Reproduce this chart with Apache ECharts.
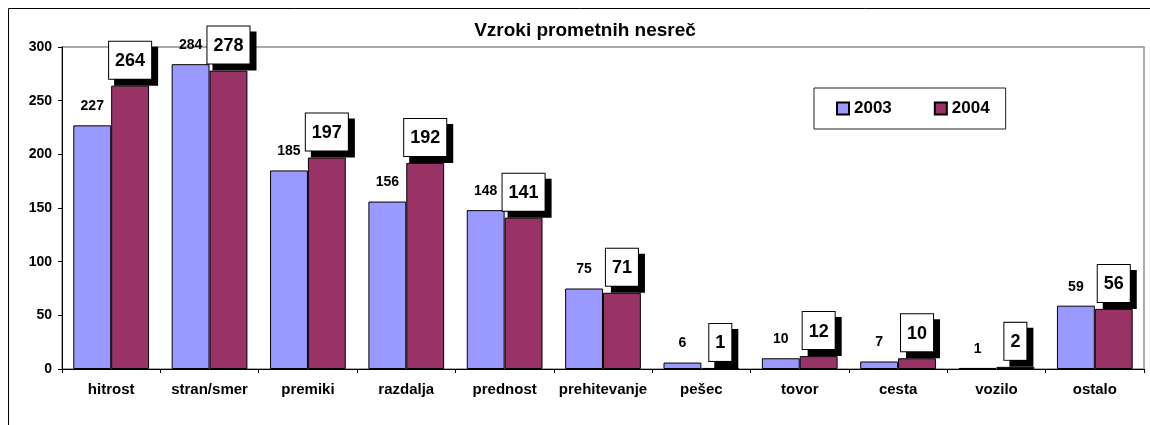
<!DOCTYPE html>
<html>
<head>
<meta charset="utf-8">
<script src="https://cdn.jsdelivr.net/npm/echarts@6/dist/echarts.min.js"></script>
<style>html,body{margin:0;padding:0;background:#fff}#c{width:1150px;height:425px}</style>
</head>
<body>
<div id="c"></div>
<script>
var categories = ['hitrost','stran/smer','premiki','razdalja','prednost','prehitevanje','pešec','tovor','cesta','vozilo','ostalo'];
var values2003 = [227, 284, 185, 156, 148, 75, 6, 10, 7, 1, 59];
var values2004 = [264, 278, 197, 192, 141, 71, 1, 12, 10, 2, 56];
var seriesNames = ['2003', '2004'];
var yTicks = [0, 50, 100, 150, 200, 250, 300];
var titleText = 'Vzroki prometnih nesreč';

var FONT = '"Liberation Sans", Arial, sans-serif';
var chart = echarts.init(document.getElementById('c'), null, {renderer: 'canvas'});
chart.setOption({
  animation: false,
  backgroundColor: '#fff',
  graphic: [{
    type: 'rect', z: -10, silent: true,
    shape: {x: 8.5, y: 8.5, width: 1300, height: 600},
    style: {fill: 'none', stroke: '#000', lineWidth: 1}
  }],
  title: {
    text: titleText, left: 585, top: 21, textAlign: 'center', padding: 0,
    textStyle: {fontFamily: FONT, fontSize: 19, fontWeight: 'bold', color: '#000'}
  },
  legend: {
    data: seriesNames, left: 814, top: 88, orient: 'horizontal',
    padding: [12, 16, 12, 22], itemGap: 42, itemWidth: 12, itemHeight: 12,
    icon: 'rect', backgroundColor: '#fff', borderColor: '#222', borderWidth: 1,
    textStyle: {fontFamily: FONT, fontSize: 17, fontWeight: 'bold', color: '#000'}
  },
  grid: {left: 62, top: 47, right: 6, bottom: 56, show: true, borderColor: '#909090', borderWidth: 1.5, backgroundColor: 'transparent'},
  xAxis: {
    type: 'category', data: categories, boundaryGap: true,
    axisLine: {lineStyle: {color: '#000', width: 1}},
    axisTick: {show: true, length: 4, inside: false, lineStyle: {color: '#000'}},
    axisLabel: {interval: 0, margin: 13, fontFamily: FONT, fontSize: 15, fontWeight: 'bold', color: '#000'},
    splitLine: {show: false}
  },
  yAxis: {
    type: 'value', min: yTicks[0], max: yTicks[yTicks.length-1], interval: yTicks[1]-yTicks[0],
    axisLine: {show: true, lineStyle: {color: '#000', width: 1}},
    axisTick: {show: true, length: 4, inside: false, lineStyle: {color: '#000'}},
    axisLabel: {margin: 10, fontFamily: FONT, fontSize: 14, fontWeight: 'bold', color: '#000'},
    splitLine: {show: false}
  },
  series: [{
    name: seriesNames[0], type: 'bar', data: values2003,
    barGap: '0%', barCategoryGap: '23%',
    itemStyle: {color: '#9999FF', borderColor: '#000', borderWidth: 1},
    label: {show: true, position: 'top', distance: 12, fontFamily: FONT, fontSize: 14, fontWeight: 'bold', color: '#000'}
  }, {
    name: seriesNames[1], type: 'bar', data: values2004,
    barGap: '0%', barCategoryGap: '23%',
    itemStyle: {color: '#993366', borderColor: '#000', borderWidth: 1},
    label: {
      show: true, position: 'top', distance: 7,
      fontFamily: FONT, fontSize: 18, fontWeight: 'bold', color: '#000', lineHeight: 19,
      backgroundColor: '#fff', borderColor: '#000', borderWidth: 1,
      padding: [10, 6, 8, 6],
      shadowColor: '#000', shadowOffsetX: 6, shadowOffsetY: 6, shadowBlur: 0
    }
  }]
});
</script>
</body>
</html>
